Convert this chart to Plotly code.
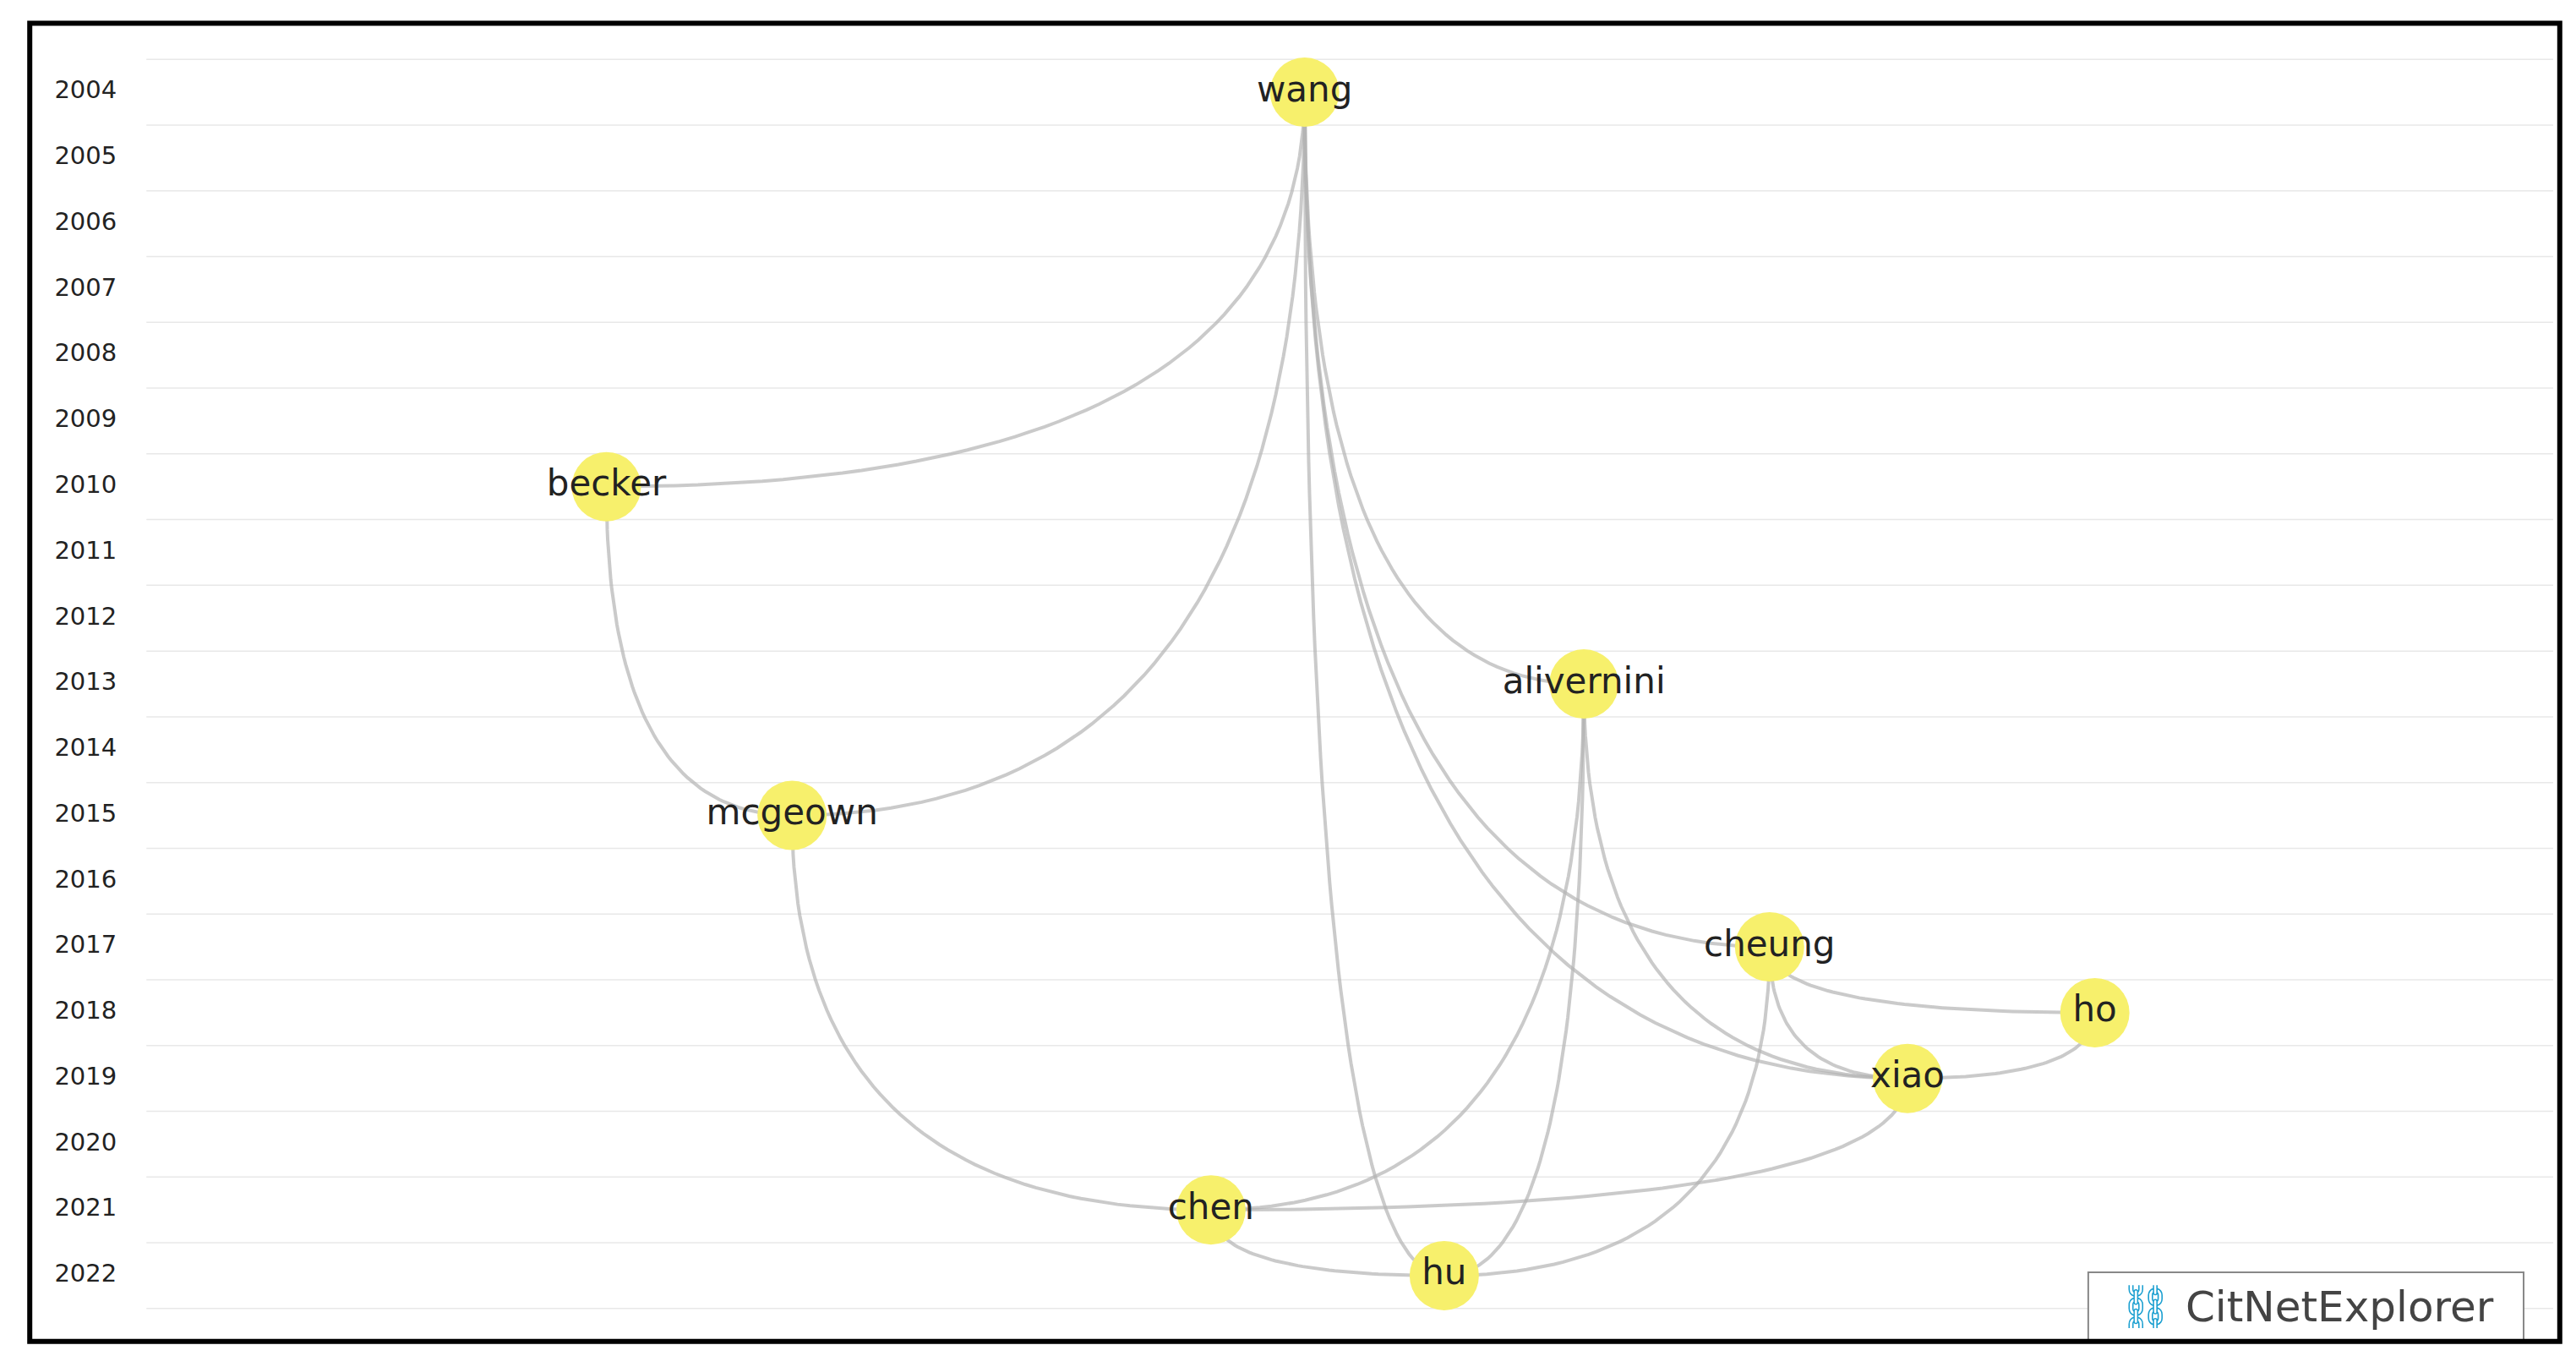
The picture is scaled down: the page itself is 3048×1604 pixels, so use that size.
import plotly.graph_objects as go
import numpy as np

years = list(range(2004, 2023))
names = ["wang", "becker", "mcgeown", "alivernini", "cheung", "ho", "xiao", "chen", "hu"]
node_x = [790, 365, 478, 960, 1073, 1271, 1157, 733, 875]
node_year = [2004, 2010, 2015, 2013, 2017, 2018, 2019, 2021, 2022]
edges = [("wang", "becker"), ("wang", "mcgeown"), ("wang", "hu"), ("wang", "alivernini"),
         ("wang", "cheung"), ("wang", "xiao"), ("becker", "mcgeown"), ("mcgeown", "chen"),
         ("alivernini", "chen"), ("alivernini", "hu"), ("alivernini", "xiao"),
         ("cheung", "ho"), ("cheung", "xiao"), ("cheung", "hu"), ("ho", "xiao"),
         ("xiao", "chen"), ("chen", "hu")]

W, H = 3048, 1604
S = W / 1568.0
pos = {n: (x, y) for n, x, y in zip(names, node_x, node_year)}

fig = go.Figure()
# year grid lines
for y in years + [2022.5 - 0.5 * 0 + 0]:
    pass
for k in range(len(years) + 1):
    gy = years[0] - 0.5 + k
    fig.add_shape(type="line", x0=85, x1=1550, y0=gy, y1=gy, line=dict(color="#e8e8e8", width=1.5), layer="below")

t = np.linspace(0, 1, 60)
for a, b in edges:
    (x1, y1), (x2, y2) = pos[a], pos[b]
    if y1 > y2:
        x1, y1, x2, y2 = x2, y2, x1, y1
    cx, cy = x1, y2
    xs = (1 - t) ** 2 * x1 + 2 * (1 - t) * t * cx + t ** 2 * x2
    ys = (1 - t) ** 2 * y1 + 2 * (1 - t) * t * cy + t ** 2 * y2
    fig.add_trace(go.Scatter(x=xs, y=ys, mode="lines", line=dict(color="rgba(180,180,180,0.7)", width=4),
                             hoverinfo="skip", showlegend=False))

fig.add_trace(go.Scatter(x=node_x, y=node_year, mode="markers+text", text=names,
                         marker=dict(size=82, color="#f7f06c", line=dict(width=0)),
                         textfont=dict(family="DejaVu Sans", size=42, color="#222"),
                         textposition="middle center", showlegend=False))

fig.add_trace(go.Scatter(x=[48] * len(years), y=years, mode="text", text=[str(y) for y in years],
                         textfont=dict(family="DejaVu Sans", size=29, color="#222"), showlegend=False))

# logo box
fig.add_shape(type="rect", x0=1267, x1=1532, y0=2021.95, y1=2023.0, line=dict(color="#888", width=2),
              fillcolor="white")
fig.add_annotation(x=1400, y=2022.48, text="<span style='color:#1a9fd0'>⛓</span> CitNetExplorer", showarrow=False,
                   font=dict(family="DejaVu Sans", size=50, color="#444"))
# frame
fig.add_shape(type="rect", x0=14, x1=1554, y0=2002.95, y1=2022.5 + 0.5, line=dict(color="black", width=6))

fig.update_layout(width=W, height=H, margin=dict(l=0, r=0, t=0, b=0), plot_bgcolor="white", paper_bgcolor="white",
                  xaxis=dict(range=[0, 1568], visible=False, fixedrange=True),
                  yaxis=dict(range=[2002.7 + 825 / 40, 2002.7], visible=False))
fig.write_html("out.html")
